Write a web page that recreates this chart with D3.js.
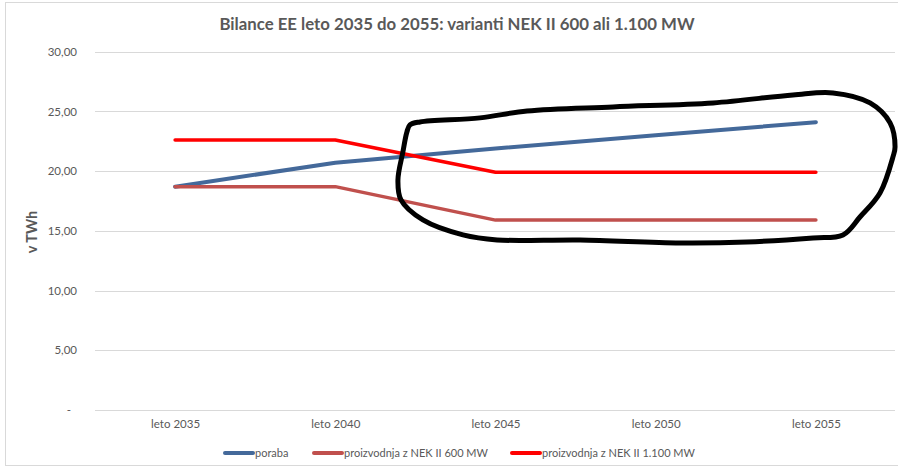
<!DOCTYPE html>
<html>
<head>
<meta charset="UTF-8">
<title>Bilance EE leto 2035 do 2055</title>
<style>
  body { margin: 0; background: #fff; }
  svg text { font-family: Lato, "Open Sans", sans-serif; fill: #595959; }
</style>
</head>
<body>
<div id="graf"></div>
<script src="https://cdn.jsdelivr.net/npm/d3@7/dist/d3.min.js"></script>
<script>
// podatki (TWh)
var leta = ["leto 2035", "leto 2040", "leto 2045", "leto 2050", "leto 2055"];
var poraba = [18.7, 20.7, 21.9, 23.0, 24.1];
var nek600 = [18.7, 18.7, 15.9, 15.9, 15.9];
var nek1100 = [22.6, 22.6, 19.9, 19.9, 19.9];
var imena = ["poraba", "proizvodnja z NEK II 600 MW", "proizvodnja z NEK II 1.100 MW"];
var yTicks = [0, 5, 10, 15, 20, 25, 30];

// ročno narisana zanka (indeks leta, TWh)
var oznaka = [
    [1.466, 23.87], [1.529, 24.12], [1.903, 24.46], [2.197, 25.04], [2.734, 25.38],
    [3.358, 25.71], [3.857, 26.38], [4.107, 26.55], [4.338, 25.71], [4.463, 24.04],
    [4.494, 22.03], [4.481, 21.19], [4.400, 18.17], [4.275, 16.16], [4.169, 14.66],
    [3.982, 14.41], [3.570, 14.07], [3.152, 13.99], [2.528, 14.24], [2.010, 14.24],
    [1.797, 14.66], [1.547, 15.91], [1.410, 17.59], [1.391, 19.26], [1.422, 21.61],
    [1.447, 23.28]
];

var barve = ["#44699a", "#c0504d", "#ff0000"];
var debeline = [4, 3.5, 3.5];

var W = 898, H = 469;
var svg = d3.select("#graf").append("svg")
    .attr("width", W)
    .attr("height", H);

// okvir grafikona
svg.append("rect")
    .attr("x", 5.5).attr("y", 2.5)
    .attr("width", 900).attr("height", 463)
    .attr("fill", "none")
    .attr("stroke", "#d9d9d9");

var x = d3.scalePoint().domain(leta).range([95, 896]).padding(0.5);
var xi = d3.scaleLinear().domain([0, leta.length - 1]).range([x(leta[0]), x(leta[leta.length - 1])]);
var y = d3.scaleLinear().domain([0, 30]).range([410, 51.7]);

// mreža
svg.append("g").selectAll("line")
    .data(yTicks)
    .enter().append("line")
    .attr("x1", 95).attr("x2", 895)
    .attr("y1", function(d){ return Math.round(y(d)) + 0.5; })
    .attr("y2", function(d){ return Math.round(y(d)) + 0.5; })
    .attr("stroke", "#d9d9d9")
    .attr("stroke-width", 1);

// os y
var fmt = function(d){ return d === 0 ? "-" : d3.format(".2f")(d).replace(".", ","); };
var yAxis = svg.append("g")
    .attr("transform", "translate(95,0)")
    .call(d3.axisLeft(y).tickValues(yTicks).tickFormat(fmt).tickSize(0).tickPadding(18));
yAxis.select(".domain").remove();
yAxis.selectAll("text")
    .attr("font-size", 11.5)
    .attr("dx", function(d){ return d === 0 ? -6 : 0; })
    .style("font-family", "Lato, sans-serif")
    .style("fill", "#595959");

// os x
var xAxis = svg.append("g")
    .attr("transform", "translate(0,410)")
    .call(d3.axisBottom(x).tickSize(0).tickPadding(10));
xAxis.select(".domain").remove();
xAxis.selectAll("text")
    .attr("font-size", 11.5)
    .style("font-family", "Lato, sans-serif")
    .style("fill", "#595959");

// naslov
svg.append("text")
    .attr("x", 457).attr("y", 30)
    .attr("text-anchor", "middle")
    .attr("font-size", 16.8)
    .attr("font-weight", "bold")
    .text("Bilance EE leto 2035 do 2055: varianti NEK II 600 ali 1.100 MW");

// naslov osi y
svg.append("text")
    .attr("transform", "translate(37,232) rotate(-90)")
    .attr("text-anchor", "middle")
    .attr("font-size", 14.5)
    .attr("font-weight", "bold")
    .text("v TWh");

// črte
var serije = [poraba, nek600, nek1100];
var line = d3.line()
    .x(function(d, i){ return x(leta[i]); })
    .y(function(d){ return y(d); });

svg.append("g").selectAll("path")
    .data(serije)
    .enter().append("path")
    .attr("d", line)
    .attr("fill", "none")
    .attr("stroke", function(d, i){ return barve[i]; })
    .attr("stroke-width", function(d, i){ return debeline[i]; })
    .attr("stroke-linejoin", "round")
    .attr("stroke-linecap", "round");

// legenda
var legX = [225, 314, 512];
var leg = svg.append("g").selectAll("g")
    .data(imena)
    .enter().append("g")
    .attr("transform", function(d, i){ return "translate(" + legX[i] + ",453)"; });
leg.append("line")
    .attr("x1", 0).attr("x2", 28)
    .attr("stroke", function(d, i){ return barve[i]; })
    .attr("stroke-width", 4)
    .attr("stroke-linecap", "round");
leg.append("text")
    .attr("x", 30).attr("y", 4)
    .attr("font-size", 11)
    .text(function(d){ return d; });

// oznaka
svg.append("path")
    .datum(oznaka)
    .attr("d", d3.line()
        .x(function(d){ return xi(d[0]); })
        .y(function(d){ return y(d[1]); })
        .curve(d3.curveCatmullRomClosed.alpha(0.5)))
    .attr("fill", "none")
    .attr("stroke", "#000")
    .attr("stroke-width", 5)
    .attr("stroke-linejoin", "round");
</script>
</body>
</html>
